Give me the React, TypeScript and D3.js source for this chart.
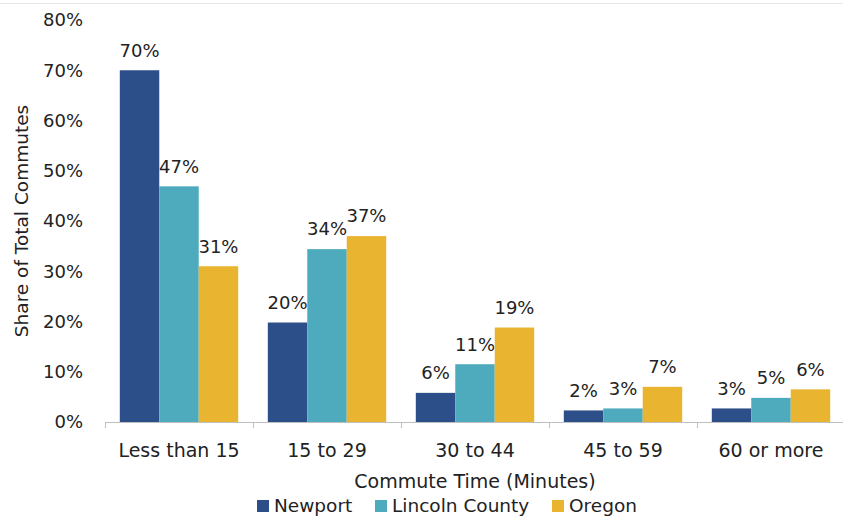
import React from "react";
import * as d3 from "d3";

const categories = ["Less than 15", "15 to 29", "30 to 44", "45 to 59", "60 or more"];
const seriesNames = ["Newport", "Lincoln County", "Oregon"];
const newport = [70, 19.8, 5.8, 2.3, 2.7];
const lincoln = [46.9, 34.4, 11.5, 2.7, 4.8];
const oregon = [31, 37, 18.8, 7, 6.5];
const valueLabels = [
  ["70%", "20%", "6%", "2%", "3%"],
  ["47%", "34%", "11%", "3%", "5%"],
  ["31%", "37%", "19%", "7%", "6%"],
];
const yTicks = [0, 10, 20, 30, 40, 50, 60, 70, 80];
const colors = ["#2D4F89", "#4EABBD", "#E9B530"];

const W = 843;
const H = 519;
const FONT = "'DejaVu Sans', Verdana, sans-serif";

export default function App() {
  const series = [newport, lincoln, oregon];
  const left = 105;
  const right = 845;
  const top = 20;
  const bottom = 422;
  const x = d3.scaleBand<string>().domain(categories).range([left, right]).paddingInner(0).paddingOuter(0);
  const inner = d3.scaleBand<number>().domain([0, 1, 2]).range([0, x.bandwidth()]).paddingOuter(0.375).paddingInner(0);
  const y = d3.scaleLinear().domain([0, 80]).range([bottom, top]);

  return (
    <svg width={W} height={H} style={{ position: "absolute", left: 0, top: 0, background: "#fff" }}>
      <line x1={0} x2={W} y1={3.5} y2={3.5} stroke="#E6E6E6" />
      {yTicks.map((t) => (
        <text key={t} x={83} y={y(t)} dy="0.35em" textAnchor="end" fontFamily={FONT} fontSize={18} fill="#222">
          {t}%
        </text>
      ))}
      {series.map((vals, si) =>
        vals.map((v, ci) => {
          const bx = (x(categories[ci]) as number) + (inner(si) as number);
          const bw = inner.bandwidth();
          return (
            <g key={`${si}-${ci}`}>
              <rect x={bx} y={y(v)} width={bw} height={bottom - y(v)} fill={colors[si]} />
              <text x={bx + bw / 2} y={y(v) - 20} dy="0.35em" textAnchor="middle" fontFamily={FONT} fontSize={18} fill="#222">
                {valueLabels[si][ci]}
              </text>
            </g>
          );
        })
      )}
      <line x1={left} x2={right} y1={bottom + 0.5} y2={bottom + 0.5} stroke="#BFBFBF" />
      {categories.map((c, i) => (
        <line key={c} x1={left + i * x.step() + 0.5} x2={left + i * x.step() + 0.5} y1={bottom} y2={bottom + 6} stroke="#BFBFBF" />
      ))}
      {categories.map((c) => (
        <text key={c} x={(x(c) as number) + x.bandwidth() / 2} y={450} dy="0.35em" textAnchor="middle" fontFamily={FONT} fontSize={19} fill="#222">
          {c}
        </text>
      ))}
      <text x={475} y={481} dy="0.35em" textAnchor="middle" fontFamily={FONT} fontSize={19} fill="#222">
        Commute Time (Minutes)
      </text>
      <text transform={`translate(22,${221}) rotate(-90)`} dy="0.35em" textAnchor="middle" fontFamily={FONT} fontSize={18.5} fill="#222">
        Share of Total Commutes
      </text>
      {(() => {
        const items = [
          { name: seriesNames[0], sx: 257 },
          { name: seriesNames[1], sx: 375 },
          { name: seriesNames[2], sx: 552 },
        ];
        return items.map((it, i) => (
          <g key={it.name}>
            <rect x={it.sx} y={500} width={12} height={12} fill={colors[i]} />
            <text x={it.sx + 17} y={506} dy="0.35em" fontFamily={FONT} fontSize={18.5} fill="#222">
              {it.name}
            </text>
          </g>
        ));
      })()}
    </svg>
  );
}
